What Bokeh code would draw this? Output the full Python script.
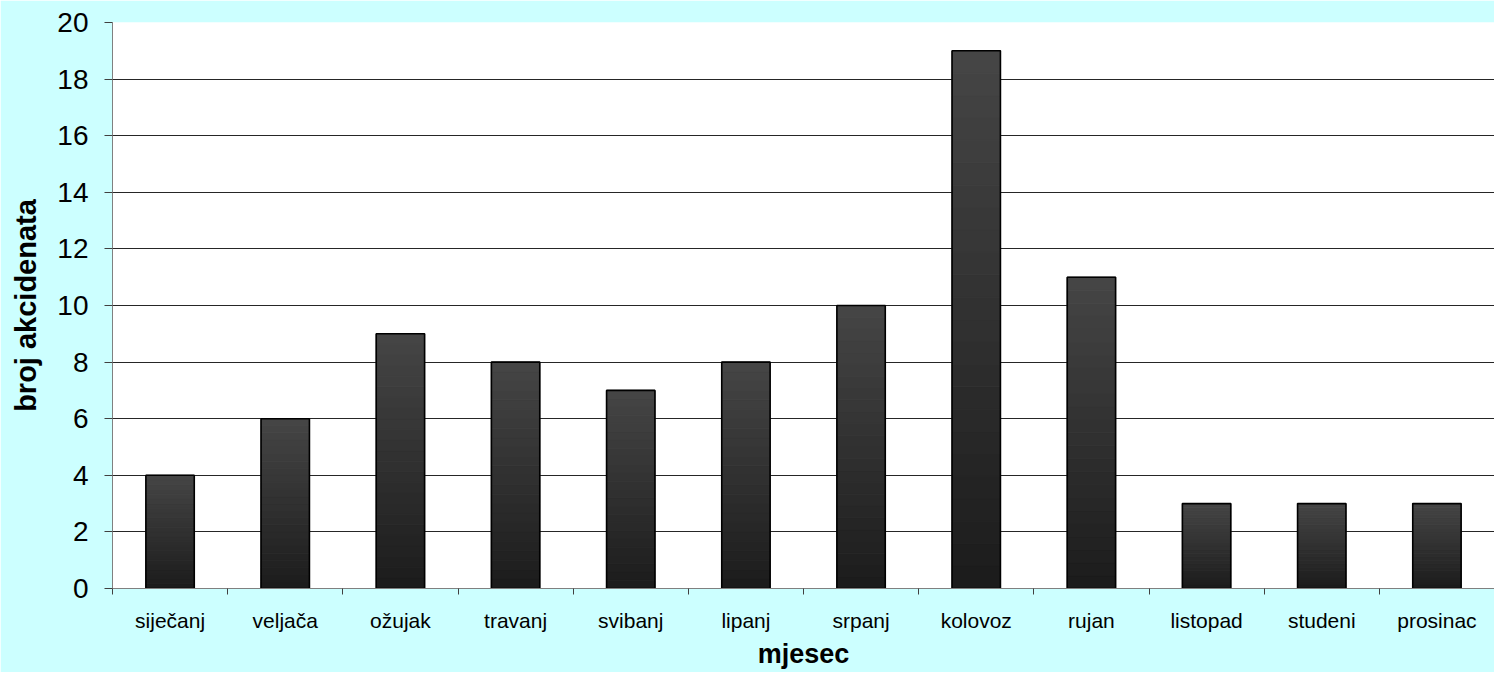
import numpy as np
from bokeh.plotting import figure
from bokeh.models import FixedTicker, Range1d, ColumnDataSource
from bokeh.embed import file_html
from bokeh.resources import INLINE

months = ["siječanj", "veljača", "ožujak", "travanj", "svibanj", "lipanj",
          "srpanj", "kolovoz", "rujan", "listopad", "studeni", "prosinac"]
counts = [4, 6, 9, 8, 7, 8, 10, 19, 11, 3, 3, 3]
y_ticks = list(range(0, 21, 2))

FONT = "Liberation Sans"
BAR_W = 0.42
N_SLICES = 24
dark = np.array([0x1c, 0x1c, 0x1c])
light = np.array([0x46, 0x46, 0x46])

x_centers = np.arange(len(months)) + 0.5

# gradient slices, derived from data values
sl_left, sl_right, sl_bottom, sl_top, sl_color = [], [], [], [], []
for xc, v in zip(x_centers, counts):
    for k in range(N_SLICES):
        f = (k + 0.5) / N_SLICES
        c = (dark + (light - dark) * f).astype(int)
        sl_left.append(xc - BAR_W / 2)
        sl_right.append(xc + BAR_W / 2)
        sl_bottom.append(v * k / N_SLICES)
        sl_top.append(v * (k + 1) / N_SLICES)
        sl_color.append("#%02x%02x%02x" % tuple(c))

p = figure(width=1494, height=672, output_backend="svg", toolbar_location=None,
           x_range=Range1d(0, len(months)), y_range=Range1d(0, 20),
           min_border_left=112, min_border_top=22, min_border_right=0,
           min_border_bottom=84)
p.border_fill_color = "#CCFFFF"
p.background_fill_color = "white"
p.outline_line_color = None

p.quad(left=sl_left, right=sl_right, bottom=sl_bottom, top=sl_top,
       fill_color=sl_color, line_color=sl_color, line_width=1)
src = ColumnDataSource(dict(x=x_centers, top=counts))
p.vbar(x="x", top="top", bottom=0, width=BAR_W, source=src,
       fill_color=None, line_color="black", line_width=1.6)

# grid
p.xgrid.grid_line_color = None
p.ygrid.grid_line_color = "#000000"
p.ygrid.grid_line_alpha = 0.85
p.ygrid.grid_line_width = 1
p.ygrid.ticker = FixedTicker(ticks=y_ticks)

# y axis
ya = p.yaxis[0]
ya.ticker = FixedTicker(ticks=y_ticks)
ya.axis_label = "broj akcidenata"
ya.axis_label_text_font = FONT
ya.axis_label_text_font_style = "bold"
ya.axis_label_text_font_size = "29px"
ya.axis_label_text_color = "black"
ya.axis_label_standoff = 12
ya.major_label_text_font = FONT
ya.major_label_text_font_size = "28px"
ya.major_label_text_color = "black"
ya.major_label_standoff = 16
ya.major_tick_out = 8
ya.major_tick_in = 0
ya.minor_tick_out = 0
ya.minor_tick_in = 0
ya.axis_line_color = "#808080"
ya.major_tick_line_color = "#404040"

# x axis: labels at centres, tick marks at category boundaries (minor ticks)
xa = p.xaxis[0]
xa.ticker = FixedTicker(ticks=list(x_centers), minor_ticks=list(range(len(months) + 1)))
xa.major_label_overrides = {float(xc): m for xc, m in zip(x_centers, months)}
xa.major_tick_out = 0
xa.major_tick_in = 0
xa.minor_tick_out = 6
xa.minor_tick_in = 0
xa.minor_tick_line_color = "#404040"
xa.axis_line_color = "#808080"
xa.major_label_text_font = FONT
xa.major_label_text_font_size = "21px"
xa.major_label_text_color = "black"
xa.major_label_standoff = 14
xa.axis_label = "mjesec"
xa.axis_label_text_font = FONT
xa.axis_label_text_font_style = "bold"
xa.axis_label_text_font_size = "27px"
xa.axis_label_text_color = "black"
xa.axis_label_standoff = 4

open("out.html", "w").write(file_html(p, INLINE))
